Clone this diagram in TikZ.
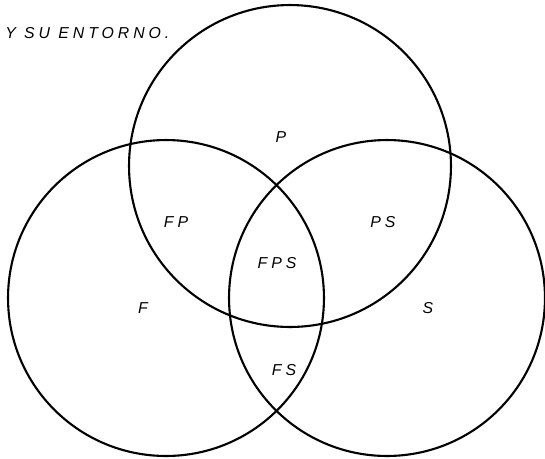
\documentclass[tikz,border=0pt]{standalone}
\usepackage{fontspec}
\newfontfamily\plotfont{Liberation Sans}[LetterSpace=25]
\usetikzlibrary{positioning}

\begin{document}
\begin{tikzpicture}[
    x=0.02cm, y=-0.02cm,
    ring/.style={circle, draw=black, line width=1.2pt, inner sep=0pt, outer sep=0pt},
    lbl/.style={font=\plotfont\itshape\fontsize{9}{11}\selectfont, inner sep=0pt}
  ]
    \useasboundingbox (0,0) rectangle (545,458);

    % Title
    \node[lbl, anchor=west] (title) at (5,33) {Y SU ENTORNO.};

    % The three sets
    \node[ring, minimum size=6.44cm] (setP) at (290,166) {};
    \node[ring, minimum size=6.32cm] (setF) at (166,298) {};
    \node[ring, minimum size=6.32cm] (setS) at (387,298) {};

    % Region labels
    \node[lbl] (lP) at (281,137) {P};
    \node[lbl] (lFP) at (176,222) {FP};
    \node[lbl] (lPS) at (383,222) {PS};
    \node[lbl] (lFPS) at (277,263) {FPS};
    \node[lbl] (lF) at (143,308) {F};
    \node[lbl] (lS) at (428,308) {S};
    \node[lbl] (lFS) at (284,370) {FS};
  \end{tikzpicture}
\end{document}
